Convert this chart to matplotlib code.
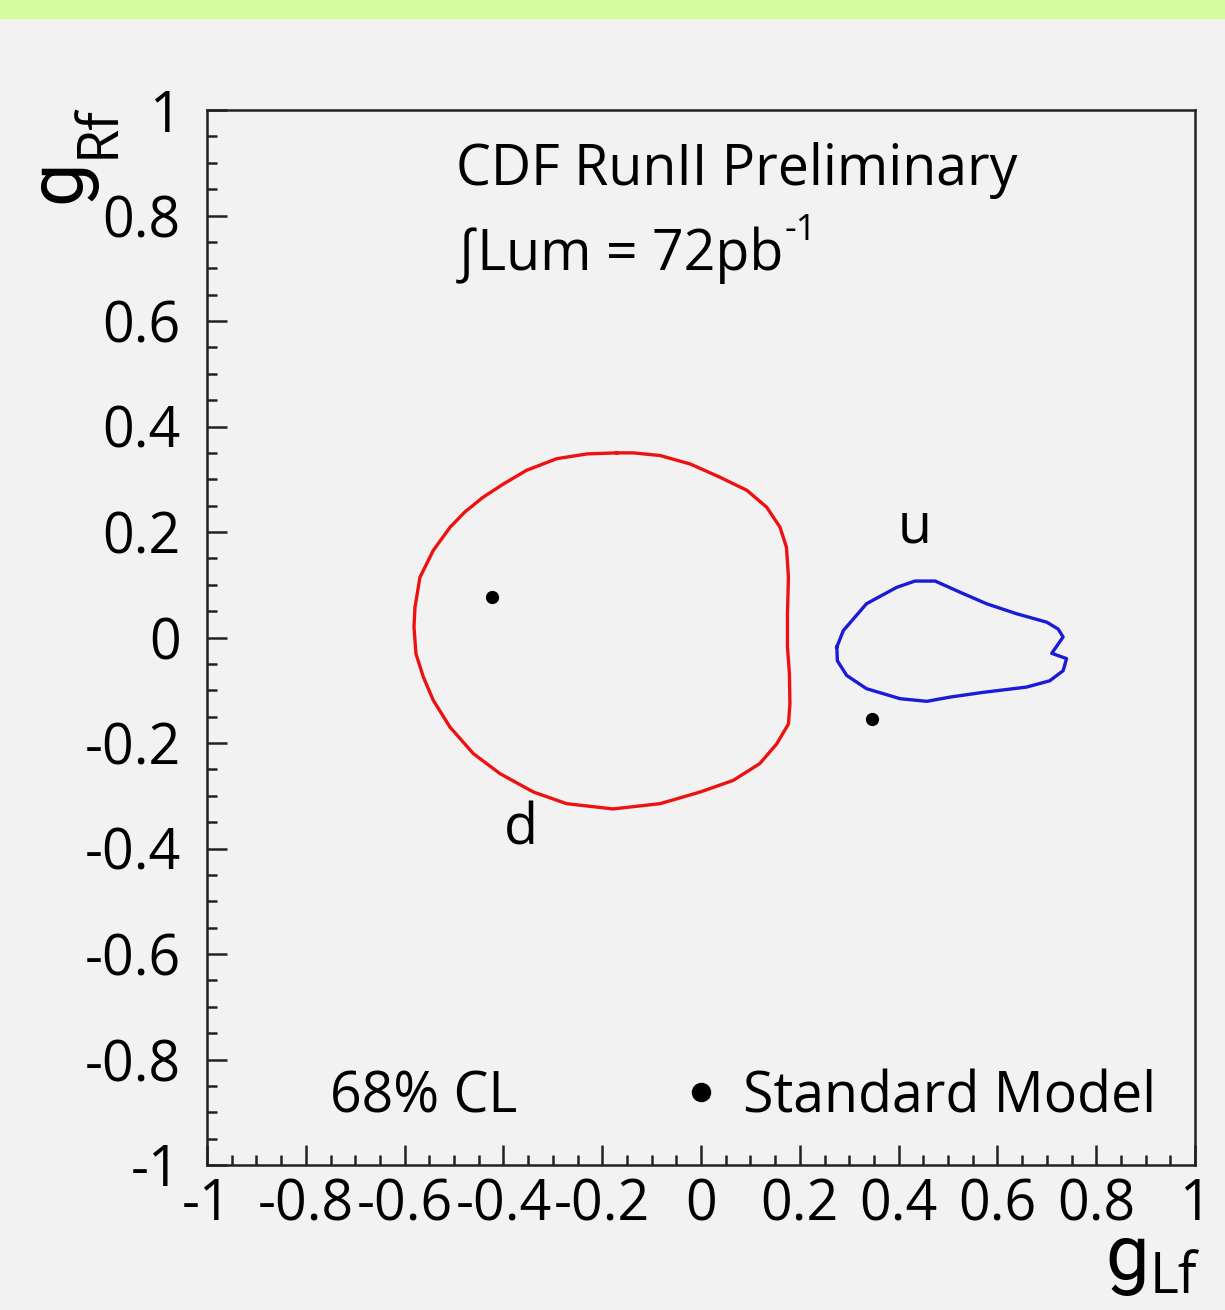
#!/usr/bin/env python3
import matplotlib
matplotlib.use("Agg")
import matplotlib.pyplot as plt
from matplotlib.ticker import MultipleLocator

# 68% CL contour for the d quark (g_Lf, g_Rf)
d_gl = [-0.171, -0.231, -0.292, -0.353, -0.400, -0.441, -0.478, -0.508, -0.542, -0.569,
        -0.579, -0.581, -0.577, -0.562, -0.542, -0.508, -0.461, -0.407, -0.339, -0.272,
        -0.178, -0.083, -0.002, 0.065, 0.119, 0.153, 0.177, 0.180, 0.179, 0.175,
        0.175, 0.177, 0.173, 0.160, 0.133, 0.093, 0.038, -0.022, -0.083, -0.137, -0.171]
d_gr = [0.350, 0.348, 0.339, 0.317, 0.291, 0.266, 0.238, 0.209, 0.165, 0.114,
        0.057, 0.020, -0.031, -0.075, -0.119, -0.170, -0.220, -0.258, -0.293, -0.315,
        -0.325, -0.315, -0.293, -0.271, -0.239, -0.202, -0.164, -0.126, -0.069, -0.018,
        0.045, 0.114, 0.171, 0.209, 0.247, 0.279, 0.304, 0.329, 0.345, 0.350, 0.350]

# 68% CL contour for the u quark
u_gl = [0.275, 0.288, 0.335, 0.396, 0.433, 0.474, 0.524, 0.578, 0.639, 0.700,
        0.723, 0.733, 0.710, 0.740, 0.733, 0.706, 0.659, 0.571, 0.504, 0.457,
        0.403, 0.335, 0.295, 0.276, 0.275]
u_gr = [-0.018, 0.013, 0.064, 0.095, 0.107, 0.107, 0.086, 0.064, 0.045, 0.029,
        0.016, 0.001, -0.030, -0.040, -0.063, -0.082, -0.094, -0.104, -0.113, -0.121,
        -0.116, -0.097, -0.072, -0.044, -0.018]

# Standard Model predictions (d, u)
sm_gl = [-0.424, 0.346]
sm_gr = [0.077, -0.154]

ticks = [-1, -0.8, -0.6, -0.4, -0.2, 0, 0.2, 0.4, 0.6, 0.8, 1]
tick_labels = ["-1", "-0.8", "-0.6", "-0.4", "-0.2", "0", "0.2", "0.4", "0.6", "0.8", "1"]

plt.rcParams['font.family'] = ['Open Sans', 'DejaVu Sans']
# mathtext only for the big g of the axis titles (single-storey g, tight box)
plt.rcParams['mathtext.fontset'] = 'custom'
plt.rcParams['mathtext.rm'] = 'Roboto'

W, H = 1225, 1310
bg = '#f2f2f2'
fig = plt.figure(figsize=(W / 100, H / 100), dpi=100, facecolor=bg)
# green strip along the top of the slide
fig.patches.append(plt.Rectangle((0, 1 - 18 / H), 1, 18 / H, transform=fig.transFigure,
                                 color='#d4fda0', zorder=0))

ax = fig.add_axes([207 / W, 145 / H, 988 / W, 1055 / H], facecolor=bg)

ax.plot(d_gl, d_gr, color='#ee1111', lw=2.4, solid_joinstyle='round')
ax.plot(u_gl, u_gr, color='#1a1ad8', lw=2.4, solid_joinstyle='round')
ax.plot(sm_gl, sm_gr, 'o', color='black', ms=8.5)

ax.set_xlim(-1, 1)
ax.set_ylim(-1, 1)
ax.set_xticks(ticks)
ax.set_xticklabels(tick_labels)
ax.set_yticks(ticks)
ax.set_yticklabels(tick_labels)
ax.xaxis.set_minor_locator(MultipleLocator(0.05))
ax.yaxis.set_minor_locator(MultipleLocator(0.05))
ax.tick_params(which='both', direction='in', top=False, right=False, width=1.8, color='#222222')
ax.tick_params(which='major', length=14.5)
ax.tick_params(which='minor', length=7)
ax.tick_params(axis='x', labelsize=40, pad=9)
ax.tick_params(axis='y', labelsize=40, pad=19)
for s in ax.spines.values():
    s.set_linewidth(1.8)
    s.set_color('#222222')

# axis titles: big g with a subscript
fig.text(1145 / W, 1 - 1280 / H, r'$\mathrm{g}$', fontsize=56, ha='right', va='baseline')
fig.text(1150 / W, 1 - 1293 / H, 'Lf', fontsize=40, ha='left', va='baseline')
fig.text(84 / W, 1 - 207 / H, r'$\mathrm{g}$', fontsize=56, rotation=90,
         rotation_mode='anchor', ha='left', va='baseline')
fig.text(114 / W, 1 - 158 / H, 'Rf', fontsize=40, rotation=90,
         rotation_mode='anchor', ha='left', va='baseline')

# labels inside the frame
ax.text(-0.496, 0.857, 'CDF RunII Preliminary', fontsize=40, va='baseline')
lum = ax.text(-0.496, 0.697, '\u222bLum = 72pb', fontsize=40, va='baseline')
ax.annotate('-1', xy=(1, 1), xycoords=lum, xytext=(1, -16), textcoords='offset points',
            fontsize=26, va='bottom')
ax.text(-0.364, -0.393, 'd', fontsize=40, ha='center', va='baseline')
ax.text(0.433, 0.18, 'u', fontsize=40, ha='center', va='baseline')
ax.text(-0.752, -0.9, '68% CL', fontsize=40, va='baseline')
ax.plot([0.0], [-0.862], 'o', color='black', ms=13)
ax.text(0.085, -0.9, 'Standard Model', fontsize=40, va='baseline')

fig.savefig('out.png', dpi=100, facecolor=bg)
